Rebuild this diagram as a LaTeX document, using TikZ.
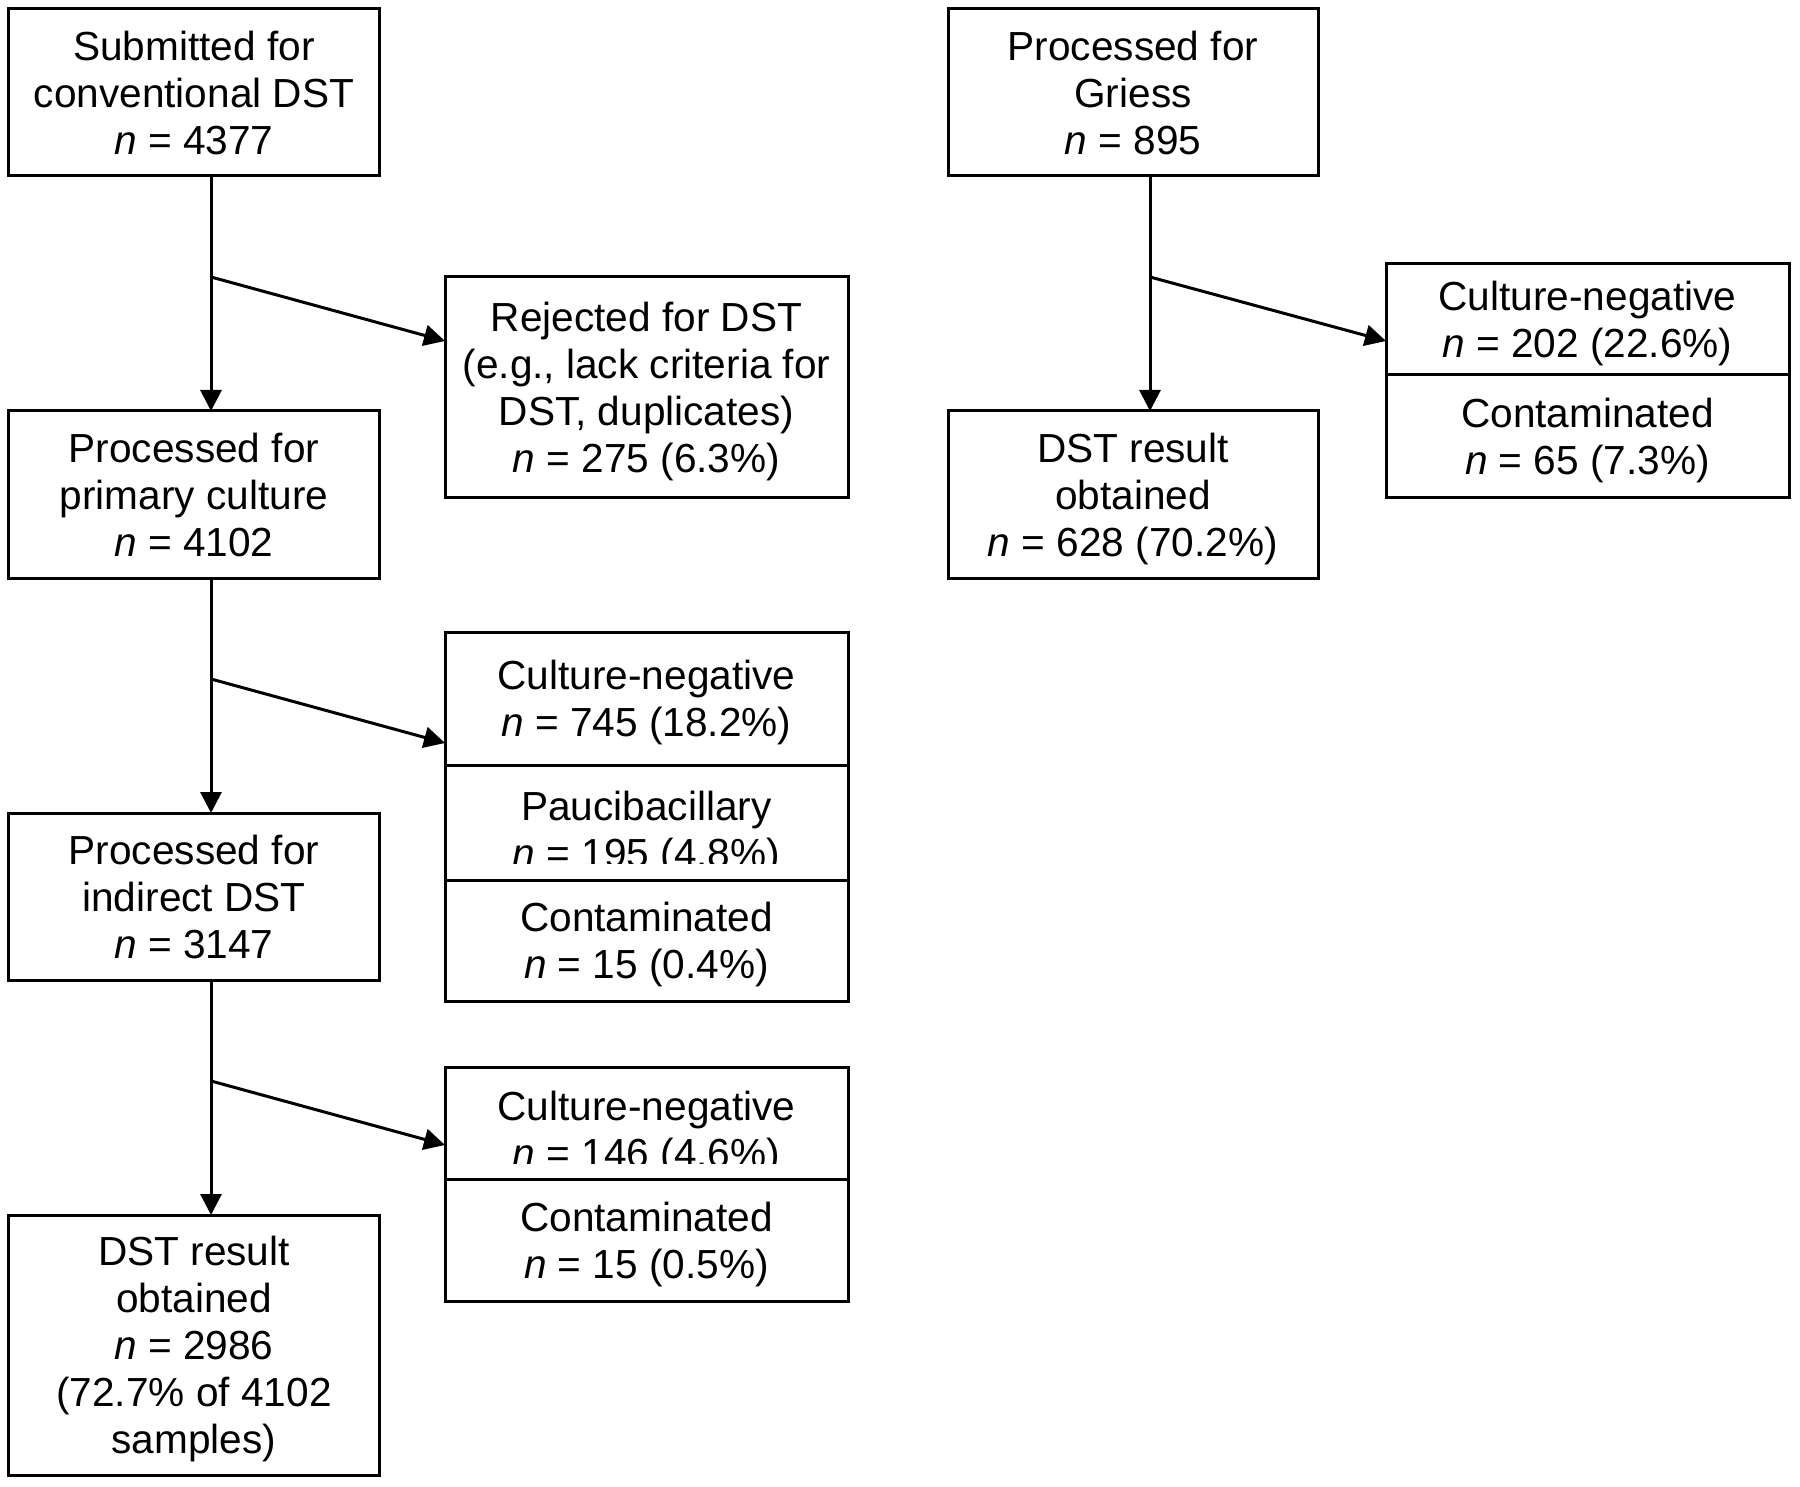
\documentclass[tikz,border=0pt]{standalone}
\usepackage{fontspec}
\setmainfont{Liberation Sans}
\usetikzlibrary{arrows.meta, positioning}
\newcommand{\nn}{\textit{n}}

\begin{document}
\begin{tikzpicture}[
	box/.style={draw, line width=1.5pt, outer sep=0pt, minimum width=185pt, minimum height=83.5pt, align=center, text depth=0pt},
	sidebox/.style={draw, line width=1.5pt, outer sep=0pt, minimum width=201.5pt, align=center, text depth=0pt},
	txt/.style={align=center, inner sep=0pt, text depth=0pt},
	arrow/.style={-{Triangle[length=10.5pt,width=10.5pt]}, line width=1.5pt},
	node distance=117.5pt,
	font=\fontsize{20.3pt}{23.5pt}\selectfont
	]

	\useasboundingbox (-4.5pt,4.5pt) rectangle (895.5pt,-739pt);

	% conventional DST
	\node[box, anchor=north west] (submit) at (0,0) {Submitted for\\conventional DST\\\nn{} = 4377};
	\node[box, below=of submit] (primary) {Processed for\\primary culture\\\nn{} = 4102};
	\node[box, below=of primary] (indirect) {Processed for\\indirect DST\\\nn{} = 3147};
	\node[box, below=of indirect, minimum height=130pt] (result) {DST result\\obtained\\\nn{} = 2986\\(72.7\% of 4102\\samples)};

	\node[sidebox, minimum height=110pt, below right=50.5pt and 33pt of submit] (rejected) {Rejected for DST\\(e.g., lack criteria for\\DST, duplicates)\\\nn{} = 275 (6.3\%)};

	\node[sidebox, minimum height=66.5pt, below right=27pt and 33pt of primary] (negprimary) {Culture-negative\\\nn{} = 745 (18.2\%)};
	\node[sidebox, minimum height=57.5pt, below=0pt of negprimary] (pauci) {};
	\node[sidebox, minimum height=60.5pt, below=0pt of pauci] (contprimary) {Contaminated\\\nn{} = 15 (0.4\%)};
	\begin{scope}
		\clip (pauci.north west) rectangle ([yshift=8.5pt]pauci.south east);
		\node[txt] (paucitxt) at ([yshift=-3.35pt]pauci.center) {Paucibacillary\\\nn{} = 195 (4.8\%)};
	\end{scope}

	\node[sidebox, minimum height=56pt, below right=43.5pt and 33pt of indirect] (negindirect) {};
	\node[sidebox, minimum height=61pt, below=0pt of negindirect] (contindirect) {Contaminated\\\nn{} = 15 (0.5\%)};
	\begin{scope}
		\clip (negindirect.north west) rectangle ([yshift=8pt]negindirect.south east);
		\node[txt] (negindirecttxt) at ([yshift=-3pt]negindirect.center) {Culture-negative\\\nn{} = 146 (4.6\%)};
	\end{scope}

	% Griess
	\node[box, right=284.5pt of submit] (griess) {Processed for\\Griess\\\nn{} = 895};
	\node[box, below=of griess] (griessresult) {DST result\\obtained\\\nn{} = 628 (70.2\%)};
	\node[sidebox, minimum height=55.5pt, below right=44pt and 34pt of griess] (neggriess) {Culture-negative\\\nn{} = 202 (22.6\%)};
	\node[sidebox, minimum height=61pt, below=0pt of neggriess] (contgriess) {Contaminated\\\nn{} = 65 (7.3\%)};

	% Connections
	\coordinate (fork1) at ([xshift=8.5pt,yshift=-50.5pt]submit.south);
	\coordinate (fork2) at ([xshift=8.5pt,yshift=-50.5pt]primary.south);
	\coordinate (fork3) at ([xshift=8.5pt,yshift=-50.5pt]indirect.south);
	\coordinate (fork4) at ([xshift=8.5pt,yshift=-50.5pt]griess.south);
	\draw[arrow] ([xshift=8.5pt]submit.south) -- ([xshift=8.5pt]primary.north);
	\draw[arrow] ([xshift=8.5pt]primary.south) -- ([xshift=8.5pt]indirect.north);
	\draw[arrow] ([xshift=8.5pt]indirect.south) -- ([xshift=8.5pt]result.north);
	\draw[arrow] ([xshift=8.5pt]griess.south) -- ([xshift=8.5pt]griessresult.north);
	\draw[arrow] (fork1) -- ([yshift=-32pt]fork1 -| rejected.west);
	\draw[arrow] (fork2) -- ([yshift=-32pt]fork2 -| negprimary.west);
	\draw[arrow] (fork3) -- ([yshift=-32pt]fork3 -| negindirect.west);
	\draw[arrow] (fork4) -- ([yshift=-32pt]fork4 -| neggriess.west);

\end{tikzpicture}
\end{document}
